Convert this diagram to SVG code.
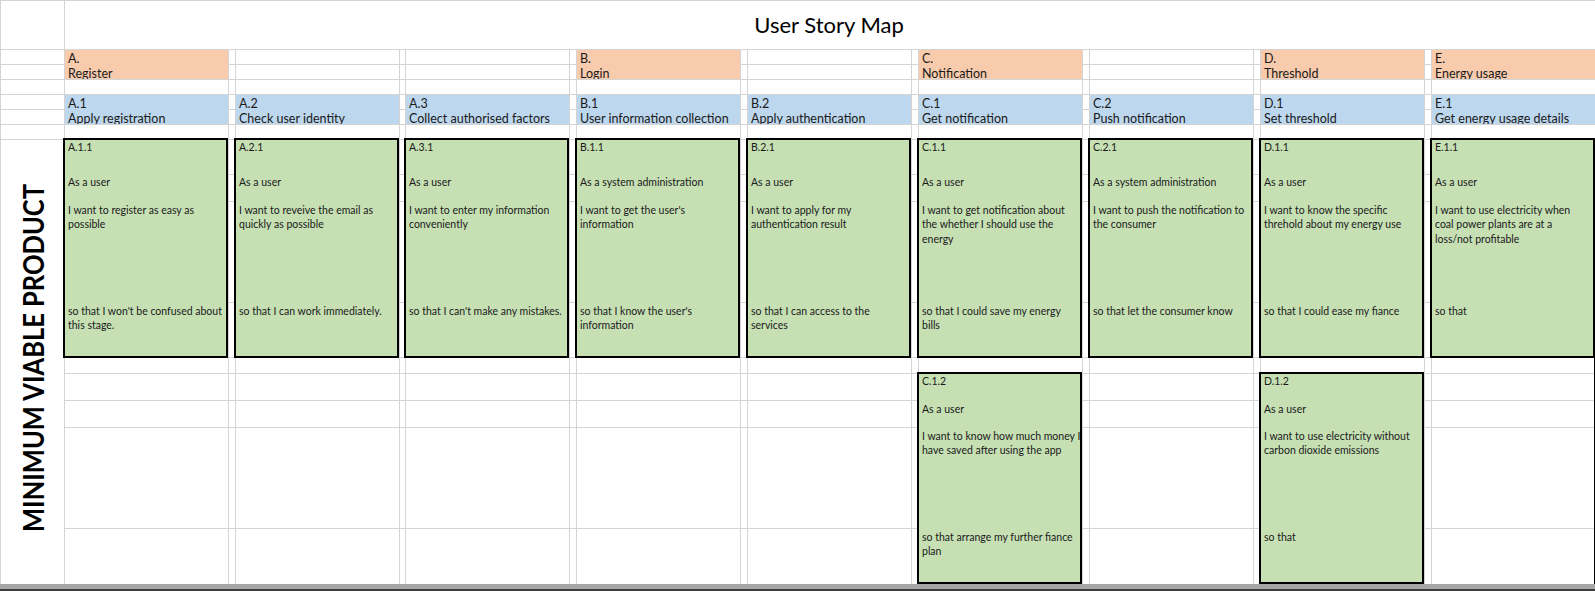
<svg xmlns="http://www.w3.org/2000/svg" width="1595" height="591" viewBox="0 0 1595 591">
<style>
.g{stroke:#d4d4d4;stroke-width:1;fill:none}
.o{fill:#f8cbad}
.b{fill:#bdd7ee}
.card{fill:#c6e0b4;stroke:#000;stroke-width:2}
.h{font-family:Lato,"Open Sans",sans-serif;font-size:12.5px;fill:#1a1a1a}
.t{font-family:Lato,"Open Sans",sans-serif;font-size:10.5px;fill:#1a1a1a}
</style>
<defs>
<clipPath id="clipO"><rect x="0" y="49" width="1595" height="30"/></clipPath>
<clipPath id="clipB"><rect x="0" y="94" width="1595" height="30"/></clipPath>
</defs>
<rect x="0" y="0" width="1595" height="591" fill="#fff"/>
<g id="grid">
<path class="g" d="M0,0.5H1595M0,49.5H1595M0,64.5H1595M0,79.5H1595M0,94.5H1595M0,109.5H1595M0,124.5H1595M0,139.5H1595M64,174.5H1595M64,201.5H1595M64,302.5H1595M64,357.5H1595M64,373.5H1595M64,400.5H1595M64,427.5H1595M64,528.5H1595"/>
<path class="g" d="M0.5,0V584M64.5,0V584M228.5,49V584M235.5,49V584M399.5,49V584M405.5,49V584M569.5,49V584M576.5,49V584M740.5,49V584M747.5,49V584M911.5,49V584M918.5,49V584M1082.5,49V584M1089.5,49V584M1253.5,49V584M1260.5,49V584M1424.5,49V584M1431.5,49V584"/>
</g>
<g id="title">
<text x="829" y="33" text-anchor="middle" font-family="Lato,'Open Sans',sans-serif" font-size="22" fill="#000">User Story Map</text>
</g>
<g id="mvp-label">
<text transform="translate(43.5,358) rotate(-90)" text-anchor="middle" font-family="Lato,'Open Sans',sans-serif" font-size="28" font-weight="bold" fill="#000" textLength="348" lengthAdjust="spacingAndGlyphs">MINIMUM VIABLE PRODUCT</text>
</g>
<g id="epics" clip-path="url(#clipO)">
<g id="epic-A"><rect class="o" x="65" y="50" width="163" height="29"/><text class="h" x="68" y="63">A.</text><text class="h" x="68" y="77.5">Register</text></g>
<g id="epic-B"><rect class="o" x="577" y="50" width="163" height="29"/><text class="h" x="580" y="63">B.</text><text class="h" x="580" y="77.5">Login</text></g>
<g id="epic-C"><rect class="o" x="919" y="50" width="163" height="29"/><text class="h" x="922" y="63">C.</text><text class="h" x="922" y="77.5">Notification</text></g>
<g id="epic-D"><rect class="o" x="1261" y="50" width="163" height="29"/><text class="h" x="1264" y="63">D.</text><text class="h" x="1264" y="77.5">Threshold</text></g>
<g id="epic-E"><rect class="o" x="1432" y="50" width="163" height="29"/><text class="h" x="1435" y="63">E.</text><text class="h" x="1435" y="77.5">Energy usage</text></g>
</g>
<g id="activities" clip-path="url(#clipB)">
<g id="act-A1"><rect class="b" x="65" y="95" width="163" height="29"/><text class="h" x="68" y="108">A.1</text><text class="h" x="68" y="122.5">Apply registration</text></g>
<g id="act-A2"><rect class="b" x="236" y="95" width="163" height="29"/><text class="h" x="239" y="108">A.2</text><text class="h" x="239" y="122.5">Check user identity</text></g>
<g id="act-A3"><rect class="b" x="406" y="95" width="163" height="29"/><text class="h" x="409" y="108">A.3</text><text class="h" x="409" y="122.5">Collect authorised factors</text></g>
<g id="act-B1"><rect class="b" x="577" y="95" width="163" height="29"/><text class="h" x="580" y="108">B.1</text><text class="h" x="580" y="122.5">User information collection</text></g>
<g id="act-B2"><rect class="b" x="748" y="95" width="163" height="29"/><text class="h" x="751" y="108">B.2</text><text class="h" x="751" y="122.5">Apply authentication</text></g>
<g id="act-C1"><rect class="b" x="919" y="95" width="163" height="29"/><text class="h" x="922" y="108">C.1</text><text class="h" x="922" y="122.5">Get notification</text></g>
<g id="act-C2"><rect class="b" x="1090" y="95" width="163" height="29"/><text class="h" x="1093" y="108">C.2</text><text class="h" x="1093" y="122.5">Push notification</text></g>
<g id="act-D1"><rect class="b" x="1261" y="95" width="163" height="29"/><text class="h" x="1264" y="108">D.1</text><text class="h" x="1264" y="122.5">Set threshold</text></g>
<g id="act-E1"><rect class="b" x="1432" y="95" width="163" height="29"/><text class="h" x="1435" y="108">E.1</text><text class="h" x="1435" y="122.5">Get energy usage details</text></g>
</g>
<g id="card-A11"><rect class="card" x="64" y="139" width="163" height="218"/>
<text class="t" x="68" y="150.5">A.1.1</text><text class="t" x="68" y="186">As a user</text>
<text class="t" x="68" y="213.5">I want to register as easy as</text><text class="t" x="68" y="228">possible</text>
<text class="t" x="68" y="314.5">so that I won't be confused about</text><text class="t" x="68" y="329">this stage.</text></g>
<g id="card-A21"><rect class="card" x="235" y="139" width="163" height="218"/>
<text class="t" x="239" y="150.5">A.2.1</text><text class="t" x="239" y="186">As a user</text>
<text class="t" x="239" y="213.5">I want to reveive the email as</text><text class="t" x="239" y="228">quickly as possible</text>
<text class="t" x="239" y="314.5">so that I can work immediately.</text></g>
<g id="card-A31"><rect class="card" x="405" y="139" width="163" height="218"/>
<text class="t" x="409" y="150.5">A.3.1</text><text class="t" x="409" y="186">As a user</text>
<text class="t" x="409" y="213.5">I want to enter my information</text><text class="t" x="409" y="228">conveniently</text>
<text class="t" x="409" y="314.5">so that I can't make any mistakes.</text></g>
<g id="card-B11"><rect class="card" x="576" y="139" width="163" height="218"/>
<text class="t" x="580" y="150.5">B.1.1</text><text class="t" x="580" y="186">As a system administration</text>
<text class="t" x="580" y="213.5">I want to get the user's</text><text class="t" x="580" y="228">information</text>
<text class="t" x="580" y="314.5">so that I know the user's</text><text class="t" x="580" y="329">information</text></g>
<g id="card-B21"><rect class="card" x="747" y="139" width="163" height="218"/>
<text class="t" x="751" y="150.5">B.2.1</text><text class="t" x="751" y="186">As a user</text>
<text class="t" x="751" y="213.5">I want to apply for my</text><text class="t" x="751" y="228">authentication result</text>
<text class="t" x="751" y="314.5">so that I can access to the</text><text class="t" x="751" y="329">services</text></g>
<g id="card-C11"><rect class="card" x="918" y="139" width="163" height="218"/>
<text class="t" x="922" y="150.5">C.1.1</text><text class="t" x="922" y="186">As a user</text>
<text class="t" x="922" y="213.5">I want to get notification about</text><text class="t" x="922" y="228">the whether I should use the</text><text class="t" x="922" y="242.5">energy</text>
<text class="t" x="922" y="314.5">so that I could save my energy</text><text class="t" x="922" y="329">bills</text></g>
<g id="card-C21"><rect class="card" x="1089" y="139" width="163" height="218"/>
<text class="t" x="1093" y="150.5">C.2.1</text><text class="t" x="1093" y="186">As a system administration</text>
<text class="t" x="1093" y="213.5">I want to push the notification to</text><text class="t" x="1093" y="228">the consumer</text>
<text class="t" x="1093" y="314.5">so that let the consumer know</text></g>
<g id="card-D11"><rect class="card" x="1260" y="139" width="163" height="218"/>
<text class="t" x="1264" y="150.5">D.1.1</text><text class="t" x="1264" y="186">As a user</text>
<text class="t" x="1264" y="213.5">I want to know the specific</text><text class="t" x="1264" y="228">threhold about my energy use</text>
<text class="t" x="1264" y="314.5">so that I could ease my fiance</text></g>
<g id="card-E11"><rect class="card" x="1431" y="139" width="163" height="218"/>
<text class="t" x="1435" y="150.5">E.1.1</text><text class="t" x="1435" y="186">As a user</text>
<text class="t" x="1435" y="213.5">I want to use electricity when</text><text class="t" x="1435" y="228">coal power plants are at a</text><text class="t" x="1435" y="242.5">loss/not profitable</text>
<text class="t" x="1435" y="314.5">so that</text></g>
<g id="card-C12"><rect class="card" x="918" y="373" width="163" height="210"/>
<text class="t" x="922" y="385">C.1.2</text><text class="t" x="922" y="412.5">As a user</text>
<text class="t" x="922" y="439.5">I want to know how much money I</text><text class="t" x="922" y="454">have saved after using the app</text>
<text class="t" x="922" y="540.5">so that arrange my further fiance</text><text class="t" x="922" y="555">plan</text></g>
<g id="card-D12"><rect class="card" x="1260" y="373" width="163" height="210"/>
<text class="t" x="1264" y="385">D.1.2</text><text class="t" x="1264" y="412.5">As a user</text>
<text class="t" x="1264" y="439.5">I want to use electricity without</text><text class="t" x="1264" y="454">carbon dioxide emissions</text>
<text class="t" x="1264" y="540.5">so that</text></g>
<g id="connectors"/>
<g id="frame">
<rect x="0" y="584" width="1595" height="5" fill="#a6a6a6"/>
<rect x="0" y="589" width="1595" height="2" fill="#3c3c3c"/>
<rect x="1594" y="139" width="1" height="445" fill="#000"/>
</g>
</svg>
